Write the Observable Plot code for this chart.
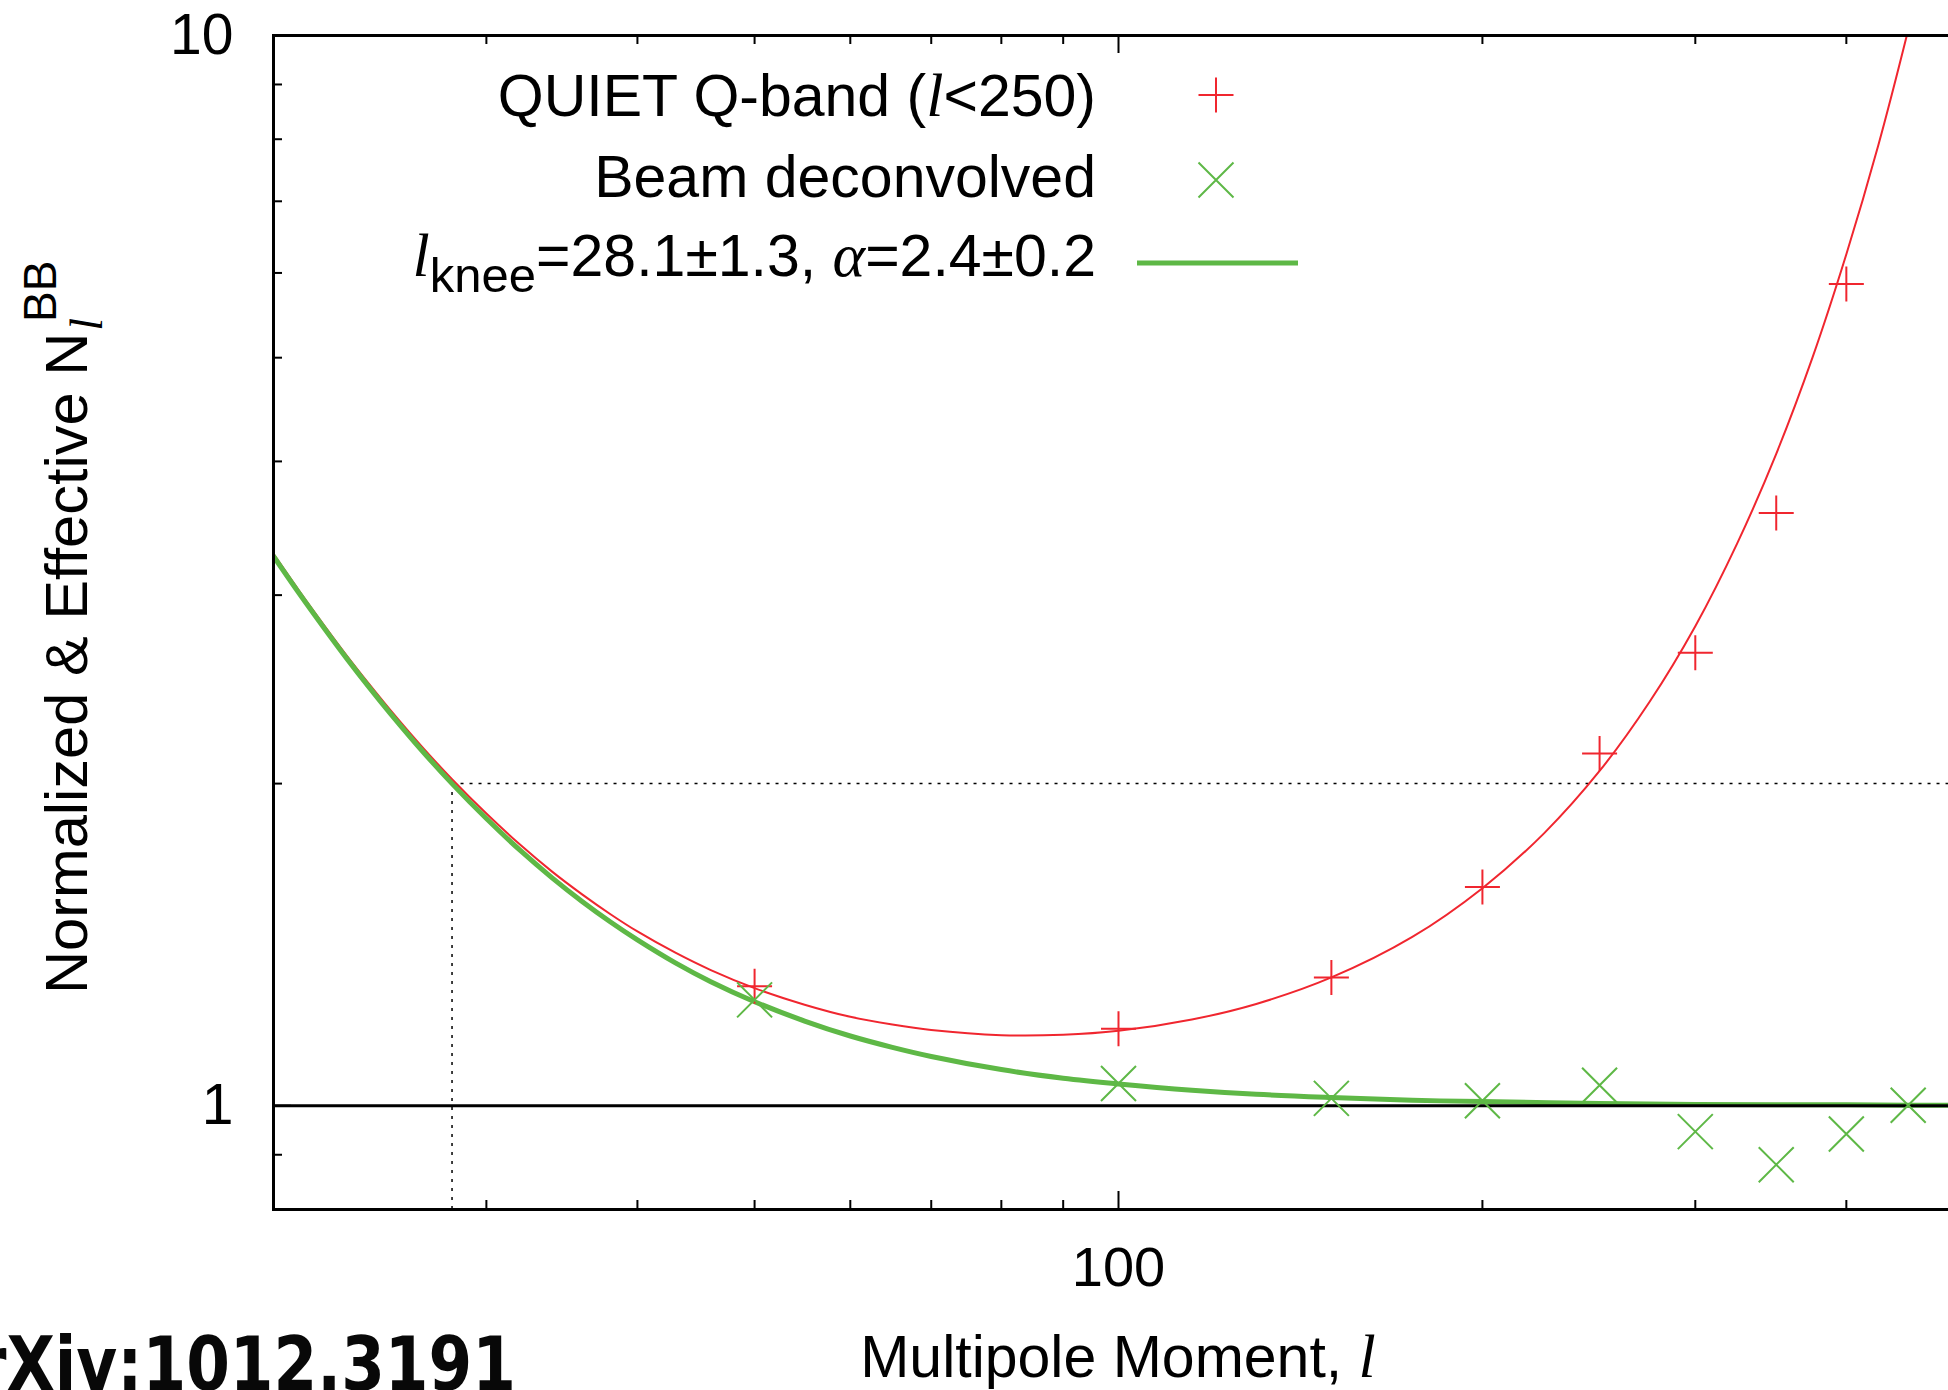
<!DOCTYPE html>
<html>
<head>
<meta charset="utf-8">
<script src="https://cdn.jsdelivr.net/npm/d3@7"></script>
<script src="https://cdn.jsdelivr.net/npm/@observablehq/plot@0.6"></script>
<style>
  html, body { margin: 0; padding: 0; background: #fff; overflow: hidden; }
  #wrap { width: 1948px; height: 1390px; overflow: hidden; position: relative; background: #fff; }
  #wrap svg { display: block; max-width: none !important; width: 1980px !important; height: 1390px !important; }
</style>
</head>
<body>
<div id="wrap"></div>
<script>
// ---------------- data ----------------
// QUIET Q-band (l<250) effective noise (red +)
const quietL = [50, 100, 150, 200, 250, 300, 350, 400];
const quietN = [1.293, 1.180, 1.318, 1.601, 2.134, 2.650, 3.580, 5.860];

// Beam deconvolved (green x)
const deconvL = [50, 100, 150, 200, 250, 300, 350, 400, 450];
const deconvN = [1.256, 1.049, 1.016, 1.011, 1.045, 0.946, 0.881, 0.941, 1.001];

// Fitted 1/f model (green thick line)
const fitL = [20, 21, 22, 23, 24, 25, 26.5, 28.1, 30, 32, 34, 36, 38, 40, 43, 46, 50, 55, 60, 65, 70, 80, 90, 100, 115, 130, 150, 175, 200, 250, 300, 350, 400, 450, 500];
const fitN = [3.262, 3.012, 2.800, 2.617, 2.460, 2.324, 2.151, 2.000, 1.855, 1.732, 1.633, 1.552, 1.485, 1.429, 1.360, 1.306, 1.251, 1.200, 1.162, 1.134, 1.112, 1.081, 1.061, 1.048, 1.034, 1.025, 1.018, 1.012, 1.009, 1.005, 1.003, 1.002, 1.002, 1.001, 1.001];

// Effective (beam-convolved) model (red thin line)
const effL = [20, 21, 22, 23, 24, 25, 26.5, 28.1, 30, 32, 34, 36, 38, 40, 43, 46, 50, 55, 60, 65, 70, 80, 90, 100, 115, 130, 150, 175, 200, 225, 250, 275, 300, 325, 350, 375, 400, 425, 450, 460];
const effN = [3.278, 3.028, 2.816, 2.633, 2.477, 2.341, 2.169, 2.019, 1.875, 1.753, 1.655, 1.576, 1.510, 1.455, 1.390, 1.339, 1.288, 1.243, 1.211, 1.191, 1.177, 1.164, 1.165, 1.175, 1.204, 1.245, 1.318, 1.438, 1.597, 1.798, 2.055, 2.385, 2.806, 3.355, 4.066, 5.000, 6.246, 7.889, 10.12, 11.23];

const lKnee = 28.1;
const kneeLevel = 2;
const unityLevel = 1;

const xDomain = [20, 500];
const yDomain = [0.8, 10];
const xMajorTicks = [100];
const xMinorTicks = [30, 40, 50, 60, 70, 80, 90, 200, 300, 400];
const yMajorTicks = [1, 10];
const yMinorTicks = [0.9, 2, 3, 4, 5, 6, 7, 8, 9];
const xTickLabels = ["100"];
const yTickLabels = ["1", "10"];

const legendLabels = ["QUIET Q-band", "Beam deconvolved"];

// ---------------- tables ----------------
const quiet = quietL.map((l, i) => ({l, n: quietN[i]}));
const deconv = deconvL.map((l, i) => ({l, n: deconvN[i]}));
const fit = fitL.map((l, i) => ({l, n: fitN[i]}));
const eff = effL.map((l, i) => ({l, n: effN[i]}));

// ---------------- layout ----------------
const W = 1980, H = 1390;
const mL = 273, mR = 17, mT = 35, mB = 181;
const plotW = W - mL - mR, plotH = H - mT - mB;
const RED = "#f0262f", GREEN = "#5eb846";
const SANS = "'Liberation Sans', Arial, Helvetica, sans-serif";
const SERIF = "'Liberation Serif', 'Times New Roman', serif";

const plusSym = {draw(ctx, size) { const r = Math.sqrt(size / Math.PI); ctx.moveTo(-r, 0); ctx.lineTo(r, 0); ctx.moveTo(0, -r); ctx.lineTo(0, r); }};
const timesSym = {draw(ctx, size) { const r = Math.sqrt(size / Math.PI); ctx.moveTo(-r, -r); ctx.lineTo(r, r); ctx.moveTo(-r, r); ctx.lineTo(r, -r); }};

const chart = Plot.plot({
  width: W, height: H,
  marginLeft: mL, marginRight: mR, marginTop: mT, marginBottom: mB,
  style: {background: "white", fontFamily: SANS, color: "black", overflow: "visible"},
  x: {type: "log", domain: xDomain, axis: null},
  y: {type: "log", domain: yDomain, axis: null},
  marks: [
    // dotted guides
    Plot.ruleX([lKnee], {y1: yDomain[0], y2: kneeLevel, stroke: "black", strokeWidth: 1.5, strokeDasharray: "3,6"}),
    Plot.ruleY([kneeLevel], {x1: lKnee, x2: xDomain[1], stroke: "black", strokeWidth: 1.5, strokeDasharray: "3,6"}),
    // model curves
    Plot.line(eff, {x: "l", y: "n", stroke: RED, strokeWidth: 2, curve: "catmull-rom", clip: true}),
    Plot.line(fit, {x: "l", y: "n", stroke: GREEN, strokeWidth: 5, curve: "catmull-rom", clip: true}),
    Plot.ruleY([unityLevel], {stroke: "black", strokeWidth: 3}),
    // data points
    Plot.dot(quiet, {x: "l", y: "n", symbol: plusSym, r: 17.5, fill: "none", stroke: RED, strokeWidth: 2}),
    Plot.dot(deconv, {x: "l", y: "n", symbol: timesSym, r: 17.5, fill: "none", stroke: GREEN, strokeWidth: 2}),
    // ticks (inward, gnuplot-like)
    Plot.tickX(xMinorTicks, {x: d => d, insetTop: plotH - 9, stroke: "black", strokeWidth: 2}),
    Plot.tickX(xMinorTicks, {x: d => d, insetBottom: plotH - 9, stroke: "black", strokeWidth: 2}),
    Plot.tickX(xMajorTicks, {x: d => d, insetTop: plotH - 18, stroke: "black", strokeWidth: 2}),
    Plot.tickX(xMajorTicks, {x: d => d, insetBottom: plotH - 18, stroke: "black", strokeWidth: 2}),
    Plot.tickY(yMinorTicks, {y: d => d, insetRight: plotW - 9, stroke: "black", strokeWidth: 2}),
    Plot.tickY(yMajorTicks, {y: d => d, insetRight: plotW - 18, stroke: "black", strokeWidth: 2}),
    // tick labels
    Plot.text(xMajorTicks, {x: d => d, text: (d, i) => xTickLabels[i], frameAnchor: "bottom", dy: 76, fontSize: 56, fill: "black"}),
    Plot.text(yMajorTicks, {y: d => d, text: (d, i) => yTickLabels[i], frameAnchor: "left", dx: -40, textAnchor: "end", fontSize: 57, fill: "black"}),
    Plot.frame({stroke: "black", strokeWidth: 3})
  ]
});

document.getElementById("wrap").appendChild(chart);

// ---------------- annotations: legend, axis titles, watermark ----------------
const svg = d3.select(chart);
const ann = svg.append("g").attr("font-family", SANS).attr("fill", "black").attr("text-anchor", "start");

// legend text
const t1 = ann.append("text").attr("x", 1096).attr("y", 116).attr("text-anchor", "end").attr("font-size", 59);
t1.append("tspan").text(legendLabels[0] + " (");
t1.append("tspan").attr("font-family", SERIF).attr("font-style", "italic").attr("font-size", 62).text("l");
t1.append("tspan").text("<250)");

ann.append("text").attr("x", 1096).attr("y", 197).attr("text-anchor", "end").attr("font-size", 59).text(legendLabels[1]);

const t3 = ann.append("text").attr("x", 1096).attr("y", 276).attr("text-anchor", "end").attr("font-size", 59);
t3.append("tspan").attr("font-family", SERIF).attr("font-style", "italic").attr("font-size", 62).text("l");
t3.append("tspan").attr("font-size", 49).attr("dy", 16).text("knee");
t3.append("tspan").attr("dy", -16).text("=" + lKnee.toFixed(1) + "\u00b11.3, ");
t3.append("tspan").attr("font-family", SERIF).attr("font-style", "italic").attr("font-size", 62).text("\u03b1");
t3.append("tspan").text("=2.4\u00b10.2");

// legend samples
const lg = ann.append("g").attr("fill", "none");
lg.append("path").attr("d", "M1198.5,95H1233.5M1216,77.5V112.5").attr("stroke", RED).attr("stroke-width", 2);
lg.append("path").attr("d", "M1198.5,162.5L1233.5,197.5M1198.5,197.5L1233.5,162.5").attr("stroke", GREEN).attr("stroke-width", 2);
lg.append("path").attr("d", "M1137,263H1298").attr("stroke", GREEN).attr("stroke-width", 5);

// x title
const xt = ann.append("text").attr("x", 1118).attr("y", 1377).attr("text-anchor", "middle").attr("font-size", 59);
xt.append("tspan").text("Multipole Moment, ");
xt.append("tspan").attr("font-family", SERIF).attr("font-style", "italic").attr("font-size", 62).text("l");

// y title (rotated)
const yt = ann.append("text").attr("transform", "translate(87,994) rotate(-90)").attr("text-anchor", "start").attr("font-size", 59.6);
yt.append("tspan").text("Normalized & Effective N");
yt.append("tspan").attr("font-family", SERIF).attr("font-style", "italic").attr("font-size", 46).attr("dy", 15).attr("dx", 2).text("l");
yt.append("tspan").attr("font-size", 46).attr("dy", -46).attr("dx", -4).text("BB");

// watermark
svg.append("text")
  .attr("x", -67).attr("y", 1390)
  .attr("text-anchor", "start")
  .attr("font-family", "'DejaVu Sans', sans-serif")
  .attr("font-weight", "bold")
  .attr("font-size", 74)
  .attr("textLength", 583)
  .attr("lengthAdjust", "spacingAndGlyphs")
  .attr("fill", "#080808")
  .text("arXiv:1012.3191");
</script>
</body>
</html>
